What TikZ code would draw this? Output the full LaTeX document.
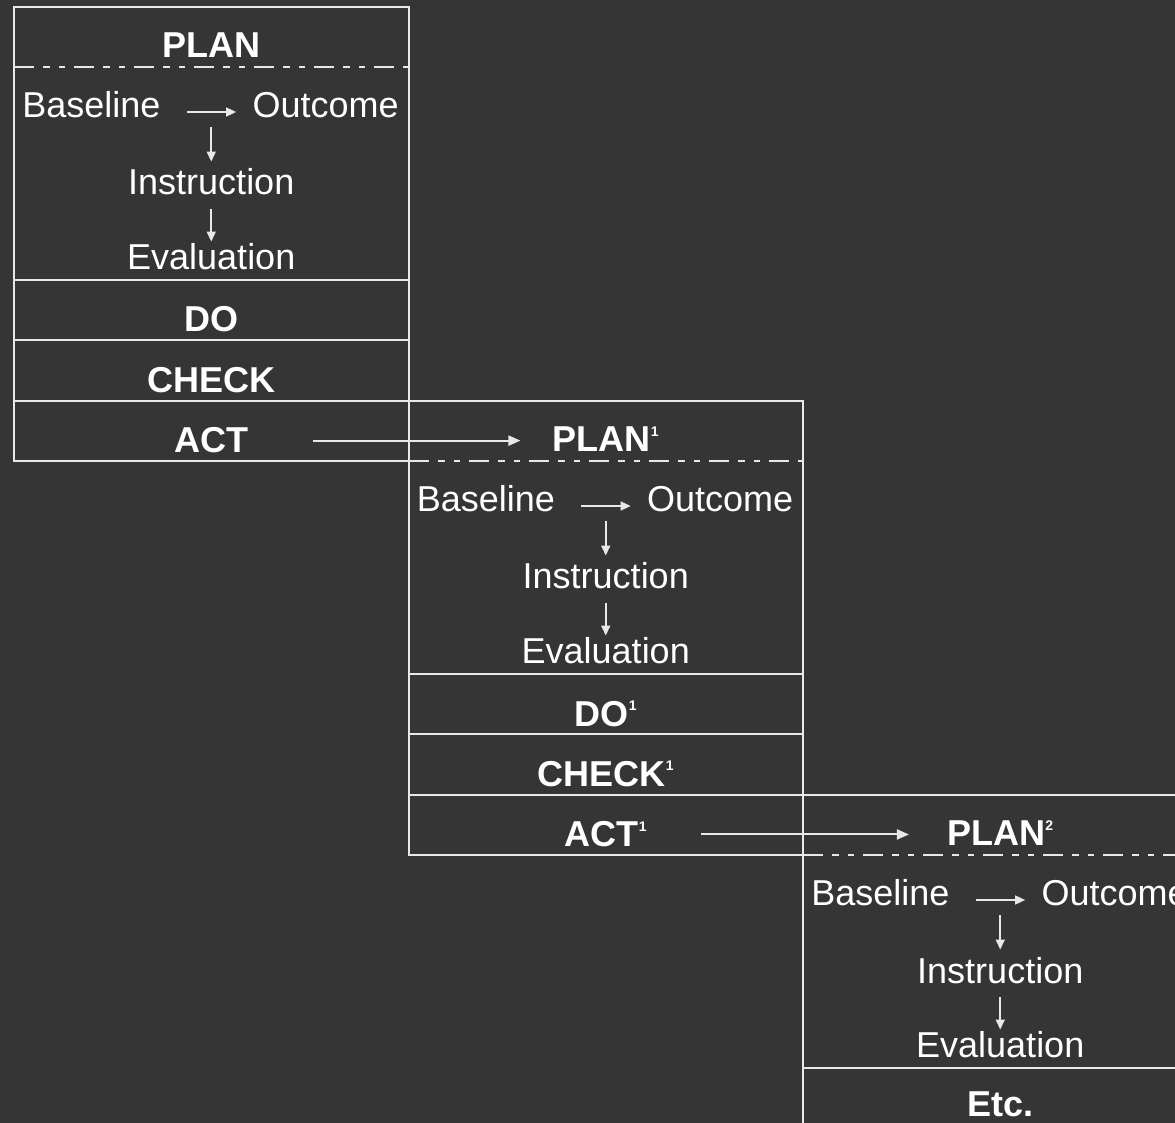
\documentclass[tikz,border=0pt]{standalone}
\usepackage{fontspec}
\setmainfont{Liberation Sans}
\usepackage{tikz}
\usetikzlibrary{arrows.meta, calc}
\definecolor{boardGray}{RGB}{53,53,53}
\definecolor{chalkWhite}{RGB}{232,232,232}
\newcommand{\cycmark}[1]{\raisebox{7.9pt}{\fontsize{7pt}{7pt}\selectfont #1}}

\begin{document}
\begin{tikzpicture}[x=0.5pt, y=-0.5pt,
    rowtext/.style={inner sep=0pt, anchor=base, text=white, font=\fontsize{18pt}{20pt}\selectfont\bfseries},
    plantext/.style={inner sep=0pt, text=white, font=\fontsize{18pt}{20pt}\selectfont},
    frame/.style={chalkWhite, line width=1pt},
    dashdot/.style={chalkWhite, line width=1pt, dash pattern=on 10pt off 4.5pt on 3.5pt off 4.5pt on 3pt off 4.5pt},
    flow/.style={chalkWhite, line width=0.8pt, -{Triangle[length=5pt, width=4.5pt]}},
    cycle/.style={chalkWhite, line width=1pt, -{Triangle[length=6pt, width=5pt]}}
]
\fill[boardGray] (0,0) rectangle (1175,1123);
\clip (0,0) rectangle (1175,1123);

% the three planning blocks
\foreach \i/\L/\T/\head in {1/14/7/{PLAN}, 2/408.5/401/{PLAN\cycmark{1}}, 3/803/795/{PLAN\cycmark{2}}}{
    \begin{scope}[shift={(\L,\T)}]
        \draw[dashdot] (0,60) -- (394.5,60);
        \draw[frame] (0,273) -- (394.5,273);
        \node[rowtext] (hd\i) at (197.25,51) {\head};
        \node[plantext, anchor=base west] (bl\i) at (8,111) {Baseline};
        \node[plantext, anchor=base east] (oc\i) at (385,111) {Outcome};
        \node[plantext, anchor=base] (in\i) at (197.25,188) {Instruction};
        \node[plantext, anchor=base] (ev\i) at (197.25,263) {Evaluation};
        \draw[flow, shorten <=13pt, shorten >=8pt] ([yshift=3pt]bl\i.base east) -- ([yshift=3pt]oc\i.base west) coordinate[pos=0.5] (ar\i);
        \draw[flow, shorten <=7.5pt, shorten >=3.5pt] (in\i.north |- ar\i) -- (in\i.north);
        \draw[flow, shorten <=6.5pt, shorten >=1pt] (in\i.south) -- (ev\i.north);
    \end{scope}
}

% do, check and act rows
\foreach \i/\L/\T/\mk in {1/14/7/{}, 2/408.5/401/{\cycmark{1}}}{
    \begin{scope}[shift={(\L,\T)}]
        \draw[frame] (0,0) rectangle (394.5,454.5);
        \draw[frame] (0,333.5) -- (394.5,333.5);
        \draw[frame] (0,394) -- (394.5,394);
        \node[rowtext] (do\i) at (197.25,325) {DO\mk};
        \node[rowtext] (ck\i) at (197.25,385.5) {CHECK\mk};
        \node[rowtext] (act\i) at (197.25,446) {ACT\mk};
    \end{scope}
}

% last block
\draw[frame] (803,795) rectangle (1197.5,1128.5);
\node[rowtext] (etc) at (1000.25,1116) {Etc.};

\draw[cycle, shorten <=32pt, shorten >=16pt] (act1.east) -- (act1.east -| hd2.west);
\draw[cycle, shorten <=27pt, shorten >=19pt] (act2.east) -- (act2.east -| hd3.west);
\end{tikzpicture}
\end{document}
